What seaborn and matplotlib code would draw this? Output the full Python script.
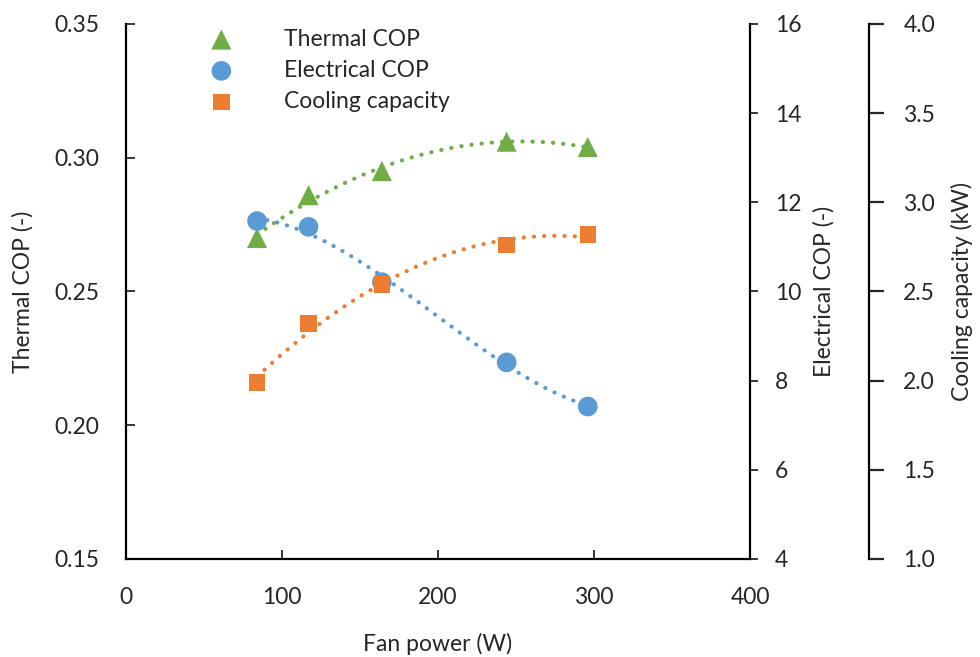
import numpy as np
import pandas as pd
import matplotlib
matplotlib.use("Agg")
import matplotlib.pyplot as plt
import seaborn as sns

fan_power = [84, 117, 164, 244, 296]
thermal_cop = [0.270, 0.286, 0.295, 0.306, 0.304]
electrical_cop = [11.58, 11.45, 10.21, 8.41, 7.42]
cooling_capacity = [1.99, 2.32, 2.54, 2.76, 2.82]

df = pd.DataFrame({'Fan power': fan_power,
                   'Thermal COP': thermal_cop,
                   'Electrical COP': electrical_cop,
                   'Cooling capacity': cooling_capacity})

green = '#70AD47'
blue = '#5B9BD5'
orange = '#ED7D31'
fs = 16.5

sns.set_theme(style='ticks')
plt.rcParams['font.family'] = ['Lato', 'DejaVu Sans']
plt.rcParams['font.size'] = fs

fig = plt.figure(figsize=(9.8, 6.57), dpi=100)
ax = fig.add_axes([0.1286, 0.1492, 0.6367, 0.8143])
ax2 = ax.twinx()
ax3 = ax.twinx()
ax3.spines['right'].set_position(('axes', 1.19))

dots = dict(linestyle=(0, (0.05, 2.4)), lw=3, dash_capstyle='round')

# trendlines
sns.regplot(data=df, x='Fan power', y='Thermal COP', order=2, ci=None, scatter=False,
            ax=ax, color=green, line_kws=dots)
sns.regplot(data=df, x='Fan power', y='Electrical COP', order=3, ci=None, scatter=False,
            ax=ax2, color=blue, line_kws=dots)
sns.regplot(data=df, x='Fan power', y='Cooling capacity', order=2, ci=None, scatter=False,
            ax=ax3, color=orange, line_kws=dots)

# markers
sns.scatterplot(data=df, x='Fan power', y='Thermal COP', ax=ax, color=green, marker='^',
                s=210, edgecolor='none', legend=False, zorder=5)
sns.scatterplot(data=df, x='Fan power', y='Electrical COP', ax=ax2, color=blue, marker='o',
                s=200, edgecolor='none', legend=False, zorder=5)
sns.scatterplot(data=df, x='Fan power', y='Cooling capacity', ax=ax3, color=orange, marker='s',
                s=140, edgecolor='none', legend=False, zorder=5)

ax.set_xlim(0, 400)
ax.set_ylim(0.15, 0.35)
ax2.set_ylim(4, 16)
ax3.set_ylim(1.0, 4.0)
ax.set_xticks([0, 100, 200, 300, 400])
ax.set_yticks([0.15, 0.20, 0.25, 0.30, 0.35])
ax.set_yticklabels(['0.15', '0.20', '0.25', '0.30', '0.35'])
ax2.set_yticks([4, 6, 8, 10, 12, 14, 16])
ax3.set_yticks([1.0, 1.5, 2.0, 2.5, 3.0, 3.5, 4.0])
ax3.set_yticklabels(['1.0', '1.5', '2.0', '2.5', '3.0', '3.5', '4.0'])
ax3.set_yticks([1.0, 4.0], minor=True)

ax.set_xlabel('Fan power (W)', fontsize=fs, labelpad=18)
ax.set_ylabel('Thermal COP (-)', fontsize=fs, labelpad=15)
ax2.set_ylabel('Electrical COP (-)', fontsize=fs, labelpad=8)
ax3.set_ylabel('Cooling capacity (kW)', fontsize=fs, labelpad=11)

for a in (ax, ax2, ax3):
    for s in a.spines.values():
        s.set_linewidth(1.6)
        s.set_color('black')
ax.spines['top'].set_visible(False)
ax.spines['right'].set_visible(False)
for a in (ax2, ax3):
    a.spines['top'].set_visible(False)
    a.spines['left'].set_visible(False)
    a.spines['bottom'].set_visible(False)

ax.tick_params(axis='y', direction='in', length=6.5, width=1.3, labelsize=fs, pad=19)
ax.tick_params(axis='x', direction='in', length=6.5, width=1.3, labelsize=fs, pad=20)
ax2.tick_params(axis='y', direction='out', length=6, width=1.3, labelsize=fs, pad=12)
ax3.tick_params(axis='y', which='major', direction='out', length=11, width=1.6, labelsize=fs, pad=14)
ax3.tick_params(axis='y', which='minor', direction='in', length=9, width=1.6)

handles = ax.collections[-1:] + ax2.collections[-1:] + ax3.collections[-1:]
labels = ['Thermal COP', 'Electrical COP', 'Cooling capacity']
ax3.legend(handles, labels, loc='upper left', bbox_to_anchor=(0.083, 1.03), frameon=False,
           handletextpad=1.75, labelspacing=0.45, fontsize=fs)

fig.savefig('out.png', dpi=100)
